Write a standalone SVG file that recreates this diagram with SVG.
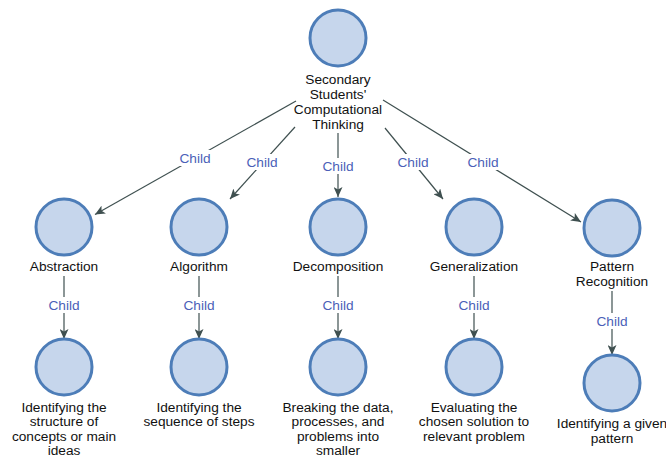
<svg xmlns="http://www.w3.org/2000/svg" width="666" height="456" viewBox="0 0 666 456">
  <style>
    .node circle { fill: #c6d6ec; stroke: #4d7db8; stroke-width: 3; }
    .node text { font-family: "Liberation Sans", Arial, sans-serif; font-size: 13.7px; fill: #111; text-anchor: middle; }
    .edge { stroke: #3f5050; stroke-width: 1.2; fill: none; marker-end: url(#arrow); }
    .lbl rect { fill: #ffffff; }
    .lbl text { font-family: "Liberation Sans", Arial, sans-serif; font-size: 13.7px; fill: #4b5fb8; text-anchor: middle; }
  </style>
  <defs>
    <marker id="arrow" markerUnits="userSpaceOnUse" markerWidth="11" markerHeight="9" refX="10" refY="4.5" orient="auto">
      <path d="M0,0 L10,4.5 L0,9 L2.5,4.5 Z" fill="#3f5050"/>
    </marker>
  </defs>
  <rect width="666" height="456" fill="#ffffff"/>

  <!-- connectors -->
  <g id="connectors">
    <line class="edge" x1="296" y1="101" x2="95" y2="214.5"/>
    <line class="edge" x1="295" y1="127" x2="230" y2="199"/>
    <line class="edge" x1="338" y1="133" x2="338" y2="197"/>
    <line class="edge" x1="385" y1="128" x2="443" y2="199"/>
    <line class="edge" x1="383" y1="100" x2="581" y2="222"/>
    <line class="edge" x1="64" y1="276" x2="64" y2="339"/>
    <line class="edge" x1="199" y1="276" x2="199" y2="339"/>
    <line class="edge" x1="338" y1="276" x2="338" y2="339"/>
    <line class="edge" x1="474" y1="276" x2="474" y2="339"/>
    <line class="edge" x1="612" y1="291" x2="612" y2="355"/>
    <g class="lbl">
      <rect x="178" y="150" width="34" height="16"/><text x="195" y="163">Child</text>
      <rect x="245" y="154" width="34" height="16"/><text x="262" y="167">Child</text>
      <rect x="321" y="158" width="34" height="16"/><text x="338" y="171">Child</text>
      <rect x="396" y="154" width="34" height="16"/><text x="413" y="167">Child</text>
      <rect x="466" y="154" width="34" height="16"/><text x="483" y="167">Child</text>
      <rect x="47" y="297" width="34" height="16"/><text x="64" y="310">Child</text>
      <rect x="182" y="297" width="34" height="16"/><text x="199" y="310">Child</text>
      <rect x="321" y="297" width="34" height="16"/><text x="338" y="310">Child</text>
      <rect x="457" y="297" width="34" height="16"/><text x="474" y="310">Child</text>
      <rect x="595" y="313" width="34" height="16"/><text x="612" y="326">Child</text>
    </g>
  </g>

  <!-- root -->
  <g id="root" class="node">
    <circle cx="338" cy="38" r="28"/>
    <text x="338" y="84">Secondary</text>
    <text x="338" y="99">Students'</text>
    <text x="338" y="114">Computational</text>
    <text x="338" y="129">Thinking</text>
  </g>

  <!-- dimensions -->
  <g id="abstraction" class="node">
    <circle cx="64" cy="227" r="28"/>
    <text x="64" y="271">Abstraction</text>
  </g>
  <g id="algorithm" class="node">
    <circle cx="199" cy="227" r="28"/>
    <text x="199" y="271">Algorithm</text>
  </g>
  <g id="decomposition" class="node">
    <circle cx="338" cy="227" r="28"/>
    <text x="338" y="271">Decomposition</text>
  </g>
  <g id="generalization" class="node">
    <circle cx="474" cy="227" r="28"/>
    <text x="474" y="271">Generalization</text>
  </g>
  <g id="pattern-recognition" class="node">
    <circle cx="612" cy="228" r="28"/>
    <text x="612" y="271">Pattern</text>
    <text x="612" y="286">Recognition</text>
  </g>

  <!-- descriptions -->
  <g id="abstraction-desc" class="node">
    <circle cx="64" cy="367" r="28"/>
    <text x="64" y="411.5">Identifying the</text>
    <text x="64" y="426">structure of</text>
    <text x="64" y="440.5">concepts or main</text>
    <text x="64" y="454.5">ideas</text>
  </g>
  <g id="algorithm-desc" class="node">
    <circle cx="199" cy="367" r="28"/>
    <text x="199" y="411.5">Identifying the</text>
    <text x="199" y="426">sequence of steps</text>
  </g>
  <g id="decomposition-desc" class="node">
    <circle cx="338" cy="367" r="28"/>
    <text x="338" y="411.5">Breaking the data,</text>
    <text x="338" y="426">processes, and</text>
    <text x="338" y="440.5">problems into</text>
    <text x="338" y="454.5">smaller</text>
  </g>
  <g id="generalization-desc" class="node">
    <circle cx="474" cy="367" r="28"/>
    <text x="474" y="411.5">Evaluating the</text>
    <text x="474" y="426">chosen solution to</text>
    <text x="474" y="440.5">relevant problem</text>
  </g>
  <g id="pattern-recognition-desc" class="node">
    <circle cx="612" cy="383" r="28"/>
    <text x="612" y="428">Identifying a given</text>
    <text x="612" y="443">pattern</text>
  </g>
</svg>
